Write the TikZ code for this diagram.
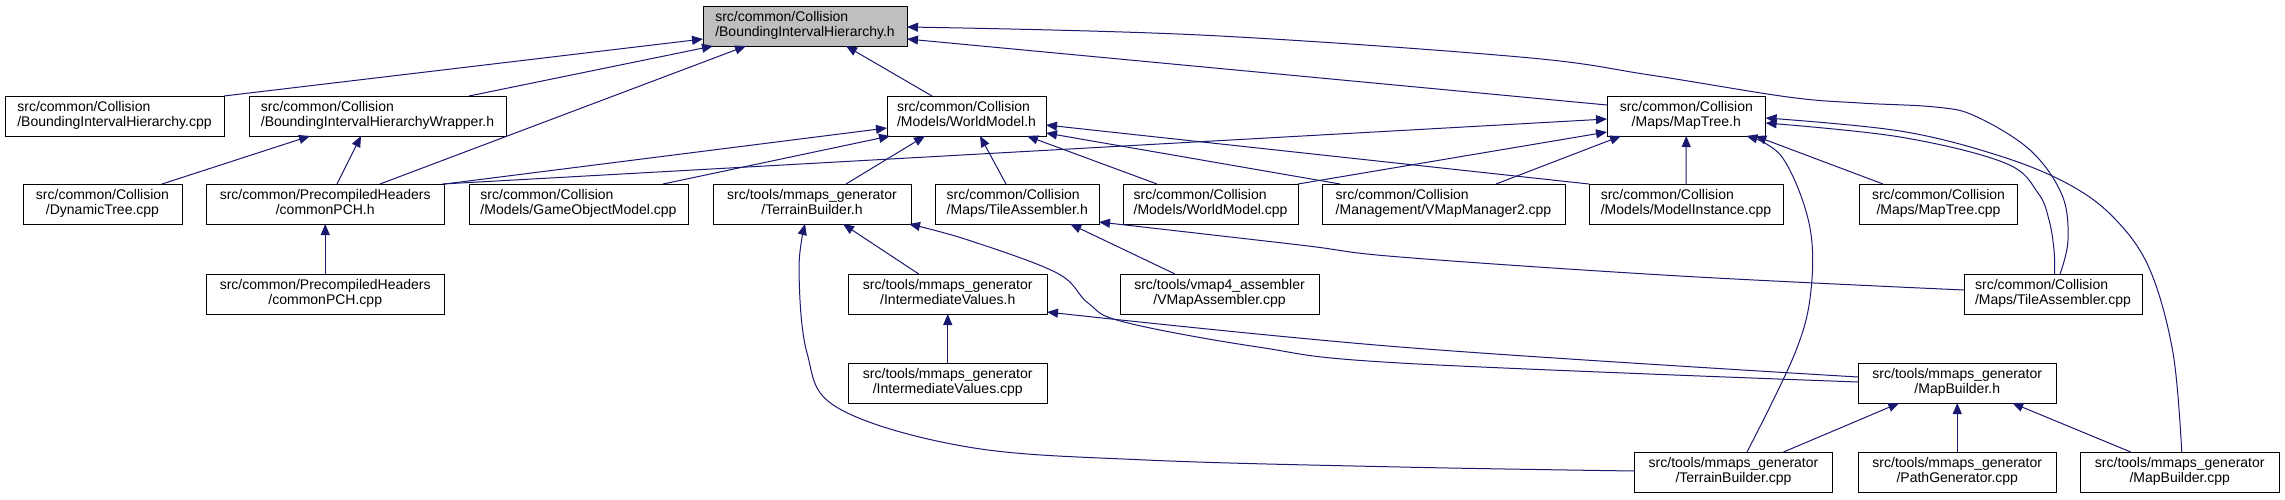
\documentclass[tikz,border=0pt]{standalone}
\usepackage{fontspec}
\setmainfont{Liberation Sans}
\usetikzlibrary{arrows.meta}
\definecolor{mblue}{HTML}{191970}
\definecolor{gfill}{HTML}{BFBFBF}
\newcommand\lbl[2]{\begin{tabular}{@{}l@{}}#1\\\hfill#2\hfill\mbox{}\end{tabular}}
\begin{document}
\begin{tikzpicture}[x=1pt,y=-1pt,
  box/.style={draw=black, line width=1pt, fill=white, inner sep=0pt, outer sep=0pt,
    minimum height=40pt, font=\fontsize{14}{15}\selectfont},
  dep/.style={draw=mblue, line width=1pt, -{Triangle[length=11pt,width=9pt]}},
  sm/.style={smooth, tension=0.6}]
\fill[white] (0,0) rectangle (2285,499);
\useasboundingbox (0,0) rectangle (2285,499);
% row 0
\node[box, fill=gfill, minimum width=204pt] (bih) at (805,26) {\lbl{src/common/Collision}{/BoundingIntervalHierarchy.h}};
% row 1
\node[box, minimum width=219pt] (bihcpp) at (114.5,116) {\lbl{src/common/Collision}{/BoundingIntervalHierarchy.cpp}};
\node[box, minimum width=257pt] (bihw) at (377.5,116) {\lbl{src/common/Collision}{/BoundingIntervalHierarchyWrapper.h}};
\node[box, minimum width=159pt] (wm) at (966.5,116) {\lbl{src/common/Collision}{/Models/WorldModel.h}};
\node[box, minimum width=158.6pt] (mt) at (1686.3,116) {\lbl{src/common/Collision}{/Maps/MapTree.h}};
% row 2
\node[box, minimum width=159pt] (dyn) at (102.5,204) {\lbl{src/common/Collision}{/DynamicTree.cpp}};
\node[box, minimum width=238.5pt] (pch) at (325.25,204) {\lbl{src/common/PrecompiledHeaders}{/commonPCH.h}};
\node[box, minimum width=219pt] (gom) at (578.5,204) {\lbl{src/common/Collision}{/Models/GameObjectModel.cpp}};
\node[box, minimum width=198pt] (tbh) at (812,204) {\lbl{src/tools/mmaps\_generator}{/TerrainBuilder.h}};
\node[box, minimum width=163.5pt] (tah) at (1017.25,204) {\lbl{src/common/Collision}{/Maps/TileAssembler.h}};
\node[box, minimum width=175pt] (wmc) at (1210.5,204) {\lbl{src/common/Collision}{/Models/WorldModel.cpp}};
\node[box, minimum width=243pt] (vmm) at (1443.5,204) {\lbl{src/common/Collision}{/Management/VMapManager2.cpp}};
\node[box, minimum width=194pt] (mi) at (1686,204) {\lbl{src/common/Collision}{/Models/ModelInstance.cpp}};
\node[box, minimum width=158pt] (mtc) at (1938.5,204) {\lbl{src/common/Collision}{/Maps/MapTree.cpp}};
% row 3
\node[box, minimum width=238.5pt] (pchc) at (325.25,294) {\lbl{src/common/PrecompiledHeaders}{/commonPCH.cpp}};
\node[box, minimum width=198.5pt] (ivh) at (947.75,294) {\lbl{src/tools/mmaps\_generator}{/IntermediateValues.h}};
\node[box, minimum width=199pt] (vma) at (1219.5,294) {\lbl{src/tools/vmap4\_assembler}{/VMapAssembler.cpp}};
\node[box, minimum width=178pt] (tac) at (2053,294) {\lbl{src/common/Collision}{/Maps/TileAssembler.cpp}};
% row 4
\node[box, minimum width=198.5pt] (ivc) at (947.75,383) {\lbl{src/tools/mmaps\_generator}{/IntermediateValues.cpp}};
\node[box, minimum width=198.5pt] (mbh) at (1957.25,383) {\lbl{src/tools/mmaps\_generator}{/MapBuilder.h}};
% row 5
\node[box, minimum width=198pt] (tbc) at (1733.5,472) {\lbl{src/tools/mmaps\_generator}{/TerrainBuilder.cpp}};
\node[box, minimum width=198.5pt] (pg) at (1957.25,472) {\lbl{src/tools/mmaps\_generator}{/PathGenerator.cpp}};
\node[box, minimum width=198.5pt] (mbc) at (2179.75,472) {\lbl{src/tools/mmaps\_generator}{/MapBuilder.cpp}};

% edges into BoundingIntervalHierarchy.h
\draw[dep] (bihcpp.north east) -- ([yshift=-13pt]bih.west);
\draw[dep] ([xshift=91.5pt]bihw.north) -- ([xshift=10pt]bih.south west);
\draw[dep] ([xshift=54.75pt]pch.north) -- ([xshift=-59pt]bih.south);
\draw[dep] ([xshift=-34.5pt]wm.north) -- ([xshift=41pt]bih.south);
\draw[dep] ([yshift=11pt]mt.west) -- ([yshift=-13pt]bih.east);
\draw[dep] plot[sm] coordinates {([xshift=7pt]tac.north) (2068,240) (2062,195) (2030,150) (1975,116) (1935,107) (1860,103) (1788,97) (1650,75) (1520,57) (1200,35) ([yshift=-1pt]bih.east)};
% into BoundingIntervalHierarchyWrapper.h
\draw[dep] ([xshift=59.5pt]dyn.north) -- ([xshift=-67.5pt]bihw.south);
\draw[dep] ([xshift=11.75pt]pch.north) -- ([xshift=-16.5pt]bihw.south);
% into commonPCH.h
\draw[dep] (pchc) -- (pch);
% into WorldModel.h
\draw[dep] (pch.north east) -- ([yshift=-12pt]wm.west);
\draw[dep] ([xshift=84.5pt]gom.north) -- ([xshift=3pt]wm.south west);
\draw[dep] ([xshift=34pt]tbh.north) -- ([xshift=-41.5pt]wm.south);
\draw[dep] ([xshift=-11.25pt]tah.north) -- ([xshift=13.5pt]wm.south);
\draw[dep] ([xshift=-53.5pt]wmc.north) -- ([xshift=60.5pt]wm.south);
\draw[dep] ([xshift=18pt]vmm.north west) -- ([yshift=-17pt]wm.east);
\draw[dep] (mi.north west) -- ([yshift=-9pt]wm.east);
% into MapTree.h
\draw[dep] ([xshift=-2pt]pch.north east) -- ([yshift=-3pt]mt.west);
\draw[dep] (wmc.north east) -- ([yshift=-16pt]mt.west);
\draw[dep] ([xshift=52.5pt]vmm.north) -- ([xshift=14pt]mt.south west);
\draw[dep] (mi) -- (mt);
\draw[dep] ([xshift=-55.5pt]mtc.north) -- ([xshift=69pt]mt.south);
\draw[dep] plot[sm] coordinates {([xshift=13.5pt]tbc.north) (1795,353) (1811,290) (1809,223) (1782,157) ([xshift=60pt]mt.south)};
\draw[dep] plot[sm] coordinates {([xshift=1.6pt]tac.north) (2054,250) (2049,220) (2038,193) (2005,163) (1900,137) ([yshift=-7pt]mt.east)};
\draw[dep] plot[sm] coordinates {([xshift=2pt]mbc.north) (2173,353) (2150,270) (2116,220) (2070,185) (2000,156) (1900,131) ([yshift=-2pt]mt.east)};
% into TerrainBuilder.h
\draw[dep] plot[sm] coordinates {([yshift=1pt]tbc.west) (1400,467) (1146,460) (968,447) (838,408) (807,353) (799,270) ([xshift=-7pt]tbh.south)};
\draw[dep] ([xshift=-29pt]ivh.north) -- ([xshift=31pt]tbh.south);
\draw[dep] plot[sm] coordinates {([yshift=1pt]mbh.west) (1400,363) (1258,347) (1124,322) (1088,303) (1057,273) (968,240) ([xshift=-2pt]tbh.south east)};
% into IntermediateValues.h
\draw[dep] plot[sm] coordinates {([yshift=6pt]mbh.west) (1400,347) ([yshift=-18pt]ivh.east)};
\draw[dep] (ivc) -- (ivh);
% into TileAssembler.h
\draw[dep] ([xshift=-44.5pt]vma.north) -- ([xshift=53pt]tah.south);
\draw[dep] plot[sm] coordinates {([yshift=4pt]tac.west) (1680,276) (1400,257) (1300,245) ([yshift=-18pt]tah.east)};
% into MapBuilder.h
\draw[dep] ([xshift=50pt]tbc.north) -- ([xshift=-58pt]mbh.south);
\draw[dep] (pg) -- (mbh);
\draw[dep] ([xshift=-49pt]mbc.north) -- ([xshift=55pt]mbh.south);
\end{tikzpicture}
\end{document}
